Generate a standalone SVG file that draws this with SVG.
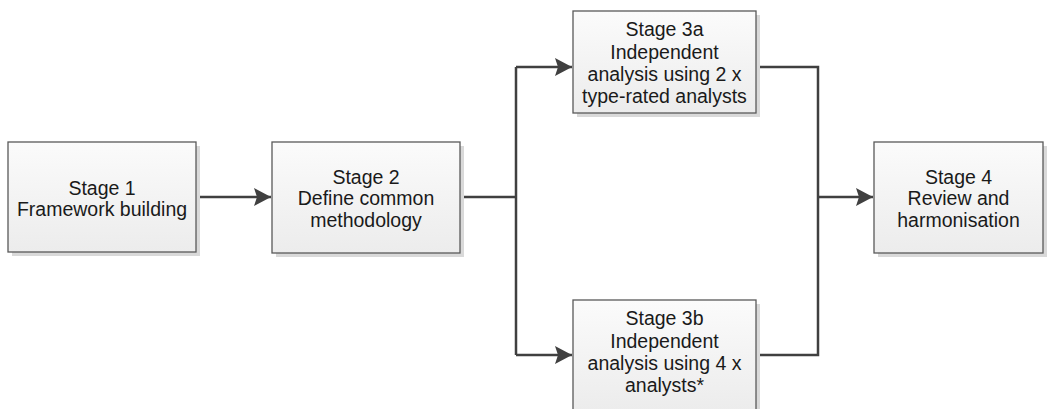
<svg xmlns="http://www.w3.org/2000/svg" width="1051" height="409" viewBox="0 0 1051 409">
<defs>
<linearGradient id="g" x1="0" y1="0" x2="0" y2="1">
<stop offset="0" stop-color="#fbfbfb"/>
<stop offset="1" stop-color="#ececec"/>
</linearGradient>
<marker id="ah" markerWidth="18" markerHeight="20" refX="17" refY="10" orient="auto" markerUnits="userSpaceOnUse">
<path d="M0,1 L17,10 L0,19 L3,10 Z" fill="#404040"/>
</marker>
</defs>
<style>
.sh{fill:#d9d9d9}
.bx{fill:url(#g);stroke:#595959;stroke-width:1.3}
.t{font-family:"Liberation Sans",Arial,sans-serif;font-size:19.5px;fill:#1a1a1a;text-anchor:middle}
.c{fill:none;stroke:#404040;stroke-width:2.5}
</style>
<g id="connectors">
<path class="c" d="M196,197 H271" marker-end="url(#ah)"/>
<path class="c" d="M460,197 H516"/>
<path class="c" d="M516,67 V355"/>
<path class="c" d="M516,67 H572" marker-end="url(#ah)"/>
<path class="c" d="M516,355 H572" marker-end="url(#ah)"/>
<path class="c" d="M756,67 H818 V355 H756"/>
<path class="c" d="M818,197 H873" marker-end="url(#ah)"/>
</g>
<g id="stage1">
<rect class="sh" x="12" y="146" width="188" height="110"/>
<rect class="bx" x="8" y="142" width="188" height="110"/>
<text class="t" x="102" y="195">Stage 1</text>
<text class="t" x="102" y="216">Framework building</text>
</g>
<g id="stage2">
<rect class="sh" x="276" y="146" width="188" height="111"/>
<rect class="bx" x="272" y="142" width="188" height="111"/>
<text class="t" x="366" y="184">Stage 2</text>
<text class="t" x="366" y="205">Define common</text>
<text class="t" x="366" y="227">methodology</text>
</g>
<g id="stage3a">
<rect class="sh" x="577" y="15" width="183" height="102"/>
<rect class="bx" x="573" y="11" width="183" height="102"/>
<text class="t" x="664.5" y="36">Stage 3a</text>
<text class="t" x="664.5" y="59">Independent</text>
<text class="t" x="664.5" y="81">analysis using 2 x</text>
<text class="t" x="664.5" y="103">type-rated analysts</text>
</g>
<g id="stage3b">
<rect class="sh" x="577" y="304" width="183" height="110"/>
<rect class="bx" x="573" y="300" width="183" height="110"/>
<text class="t" x="664.5" y="325">Stage 3b</text>
<text class="t" x="664.5" y="348">Independent</text>
<text class="t" x="664.5" y="370">analysis using 4 x</text>
<text class="t" x="664.5" y="392">analysts*</text>
</g>
<g id="stage4">
<rect class="sh" x="878" y="146" width="169" height="111"/>
<rect class="bx" x="874" y="142" width="169" height="111"/>
<text class="t" x="958.5" y="184">Stage 4</text>
<text class="t" x="958.5" y="205">Review and</text>
<text class="t" x="958.5" y="227">harmonisation</text>
</g>
</svg>
